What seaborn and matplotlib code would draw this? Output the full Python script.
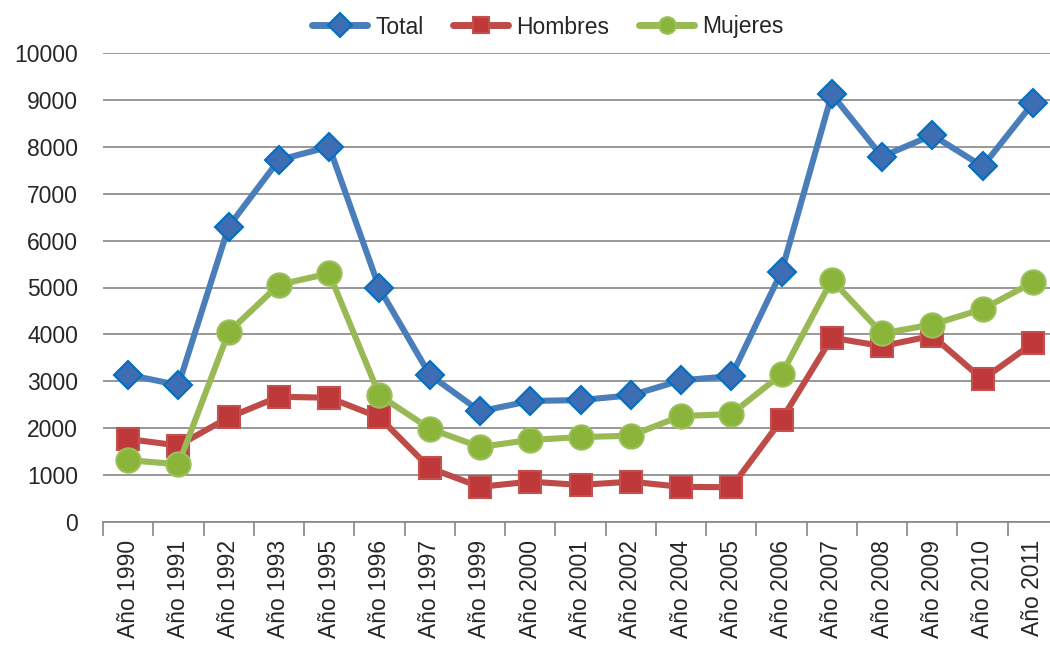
import matplotlib
matplotlib.use("Agg")
import matplotlib.pyplot as plt
import seaborn as sns
import pandas as pd
import numpy as np

years = ["Año 1990", "Año 1991", "Año 1992", "Año 1993", "Año 1995", "Año 1996",
         "Año 1997", "Año 1999", "Año 2000", "Año 2001", "Año 2002", "Año 2004",
         "Año 2005", "Año 2006", "Año 2007", "Año 2008", "Año 2009", "Año 2010",
         "Año 2011"]
total = [3140, 2920, 6300, 7720, 8000, 4980, 3140, 2360, 2580, 2600, 2700, 3020,
         3110, 5340, 9120, 7790, 8250, 7580, 8930]
hombres = [1770, 1630, 2230, 2670, 2650, 2230, 1150, 750, 860, 790, 860, 750,
           740, 2180, 3930, 3750, 3970, 3040, 3810]
mujeres = [1320, 1230, 4050, 5060, 5300, 2700, 1990, 1600, 1750, 1810, 1840, 2260,
           2300, 3150, 5160, 4020, 4210, 4540, 5110]
series_names = ["Total", "Hombres", "Mujeres"]
yticks = [0, 1000, 2000, 3000, 4000, 5000, 6000, 7000, 8000, 9000, 10000]

sns.set_theme(style="white")
plt.rcParams["font.family"] = ["Liberation Sans", "DejaVu Sans"]

df = pd.DataFrame({
    "year": years * 3,
    "value": total + hombres + mujeres,
    "serie": [series_names[0]] * len(years) + [series_names[1]] * len(years) + [series_names[2]] * len(years),
})

line_colors = {"Total": "#4A7EBB", "Hombres": "#BE4B48", "Mujeres": "#98B954"}
face_colors = {"Total": "#3D6DB3", "Hombres": "#C0393A", "Mujeres": "#8AB53A"}
edge_colors = {"Total": "#0070C0", "Hombres": "#C55050", "Mujeres": "#9BC05A"}
markers = {"Total": "D", "Hombres": "s", "Mujeres": "o"}
msizes = {"Total": 14, "Hombres": 16, "Mujeres": 17.5}

fig = plt.figure(figsize=(10.5, 6.53), dpi=100)
ax = fig.add_axes([103 / 1050, 1 - 522 / 653, 955 / 1050, 469 / 653])

x = np.arange(len(years))
for name in series_names:
    sub = df[df["serie"] == name].copy()
    sub["pos"] = x
    sns.lineplot(data=sub, x="pos", y="value", ax=ax, color=line_colors[name],
                 linewidth=4.4, marker=markers[name], markersize=msizes[name],
                 markerfacecolor=face_colors[name], markeredgecolor=edge_colors[name],
                 markeredgewidth=1.5, label=name, sort=False, zorder=3)

ax.set_xlim(-0.5, len(years) - 0.5)
ax.set_ylim(0, 10000)
ax.set_yticks(yticks)
ax.set_yticklabels([str(v) for v in yticks], fontsize=16.5)
ax.yaxis.grid(True, color="#868686", linewidth=1.2)
ax.set_axisbelow(True)
ax.set_xticks(x)
ax.set_xticklabels(years, rotation=90, fontsize=16.5)
ax.set_xticks(np.arange(len(years) + 1) - 0.5, minor=True)
ax.tick_params(axis="x", which="major", length=0, pad=13)
ax.tick_params(axis="x", which="minor", length=10, color="#868686", width=1.2, direction="out", bottom=True)
ax.tick_params(axis="y", length=0, pad=18)
for s in ["top", "right", "left"]:
    ax.spines[s].set_visible(False)
ax.spines["bottom"].set_color("#868686")
ax.spines["bottom"].set_linewidth(1.2)
ax.set_xlabel("")
ax.set_ylabel("")

handles, labels = ax.get_legend_handles_labels()
leg = fig.legend(handles, labels, loc="center", bbox_to_anchor=(548 / 1050, 1 - 27 / 653),
                 ncol=3, frameon=False, fontsize=16.5, handlelength=2.4, columnspacing=1.3,
                 handletextpad=0.35)
for h in leg.legend_handles:
    h.set_markersize(12)
    h.set_linewidth(5)
if ax.get_legend():
    ax.get_legend().remove()

fig.savefig("out.png", dpi=100)
